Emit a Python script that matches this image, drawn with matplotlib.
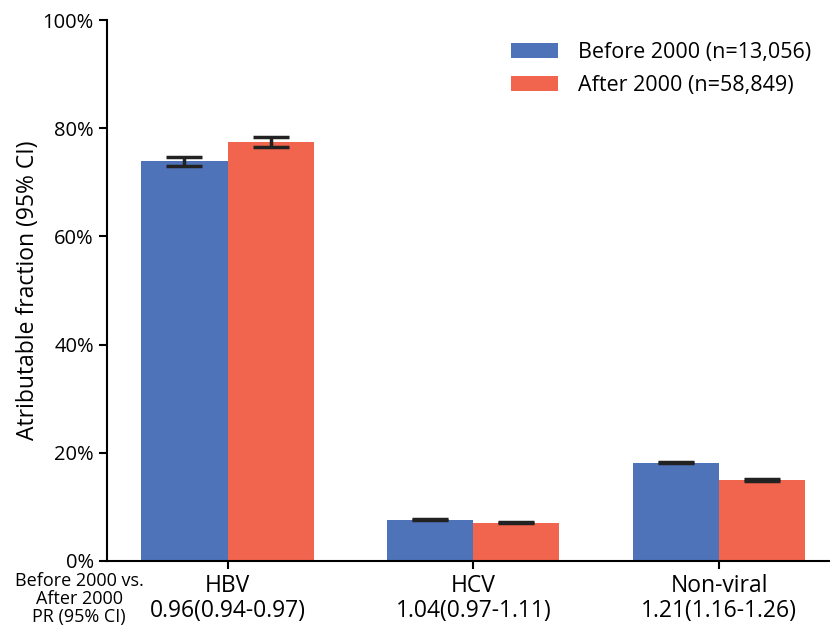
import matplotlib.pyplot as plt
import numpy as np
from matplotlib.ticker import FuncFormatter

plt.rcParams['font.family'] = ['Open Sans', 'DejaVu Sans']

categories = ['HBV', 'HCV', 'Non-viral']
pr_labels = ['0.96(0.94-0.97)', '1.04(0.97-1.11)', '1.21(1.16-1.26)']
before_vals = [73.9, 7.6, 18.2]
before_err = [0.8, 0.1, 0.15]
after_vals = [77.4, 7.1, 15.0]
after_err = [0.9, 0.1, 0.15]
series_names = ['Before 2000 (n=13,056)', 'After 2000 (n=58,849)']

blue = '#4E73B9'
orange = '#F1644D'

x = np.arange(len(categories))
w = 0.35

fig = plt.figure(figsize=(8.3, 6.31), dpi=100)
ax = fig.add_axes([107/830, 1 - 561/631, 1 - 107/830, 541/631])

err_style = dict(ecolor='#222222', elinewidth=2.5, capthick=2.5)
ax.bar(x - w/2, before_vals, w, color=blue, label=series_names[0],
       yerr=before_err, capsize=13, error_kw=err_style)
ax.bar(x + w/2, after_vals, w, color=orange, label=series_names[1],
       yerr=after_err, capsize=13, error_kw=err_style)

ax.set_xlim(-0.49, 2.45)
ax.set_ylim(0, 100)
ax.set_yticks([0, 20, 40, 60, 80, 100])
ax.yaxis.set_major_formatter(FuncFormatter(lambda v, p: f'{v:.0f}%'))
ax.set_xticks(x)
ax.set_xticklabels([f'{c}\n{p}' for c, p in zip(categories, pr_labels)],
                   fontsize=16.5, linespacing=1.1)

for s in ['top', 'right']:
    ax.spines[s].set_visible(False)
for s in ['left', 'bottom']:
    ax.spines[s].set_linewidth(1.5)
ax.tick_params(axis='both', width=1.5, length=6)
ax.tick_params(axis='y', labelsize=14.5)
ax.tick_params(axis='x', pad=3)

ax.set_ylabel('Atributable fraction (95% CI)', fontsize=16.5, labelpad=2)

# row caption for the prevalence ratio line under the categories
fig.text(79/830, 1 - 599/631, 'Before 2000 vs.\nAfter 2000\nPR (95% CI)',
         ha='center', va='center', fontsize=13, linespacing=1.0)

ax.legend(loc='upper right', bbox_to_anchor=(1.0, 0.995), frameon=False,
          fontsize=15.5, handlelength=2.2, handleheight=0.75, handletextpad=0.9,
          labelspacing=0.55)

fig.savefig('out.png', dpi=100)
